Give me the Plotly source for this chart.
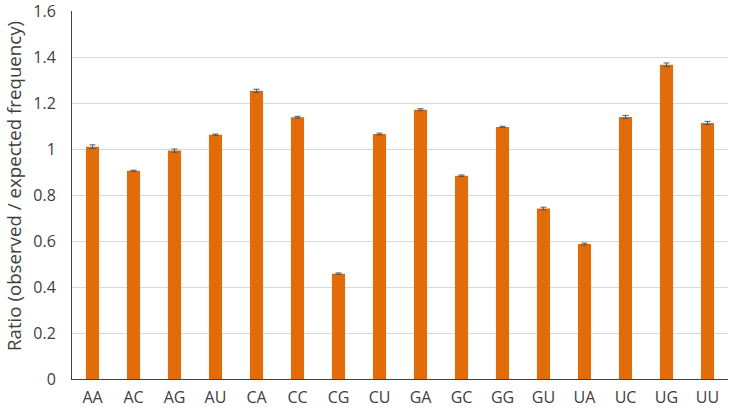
import plotly.graph_objects as go

categories = ["AA", "AC", "AG", "AU", "CA", "CC", "CG", "CU", "GA", "GC", "GG", "GU", "UA", "UC", "UG", "UU"]
ratios = [1.010, 0.905, 0.993, 1.062, 1.253, 1.138, 0.458, 1.065, 1.171, 0.884, 1.096, 0.741, 0.587, 1.139, 1.366, 1.113]
errors = [0.008, 0.003, 0.007, 0.003, 0.007, 0.004, 0.003, 0.004, 0.004, 0.003, 0.003, 0.006, 0.004, 0.007, 0.008, 0.007]
y_ticks = [0, 0.2, 0.4, 0.6, 0.8, 1, 1.2, 1.4, 1.6]
y_tick_labels = ["0", "0.2", "0.4", "0.6", "0.8", "1", "1.2", "1.4", "1.6"]
y_title = "Ratio (observed / expected frequency)"

fig = go.Figure(go.Bar(
    x=categories,
    y=ratios,
    marker=dict(color="#E36C0A", line=dict(width=0)),
    width=0.32,
    error_y=dict(type="data", array=errors, visible=True, color="#555555", thickness=1, width=3),
))

fig.update_layout(
    width=733, height=411,
    margin=dict(l=72, r=5, t=11, b=32, autoexpand=False),
    plot_bgcolor="white", paper_bgcolor="white",
    showlegend=False,
    font=dict(family="Open Sans, sans-serif", size=16, color="#404040"),
)
fig.update_xaxes(
    showline=True, linecolor="#404040", linewidth=1,
    showgrid=False, ticks="outside", ticklen=4, tickcolor="rgba(0,0,0,0)",
    tickfont=dict(size=16, color="#404040"), automargin=False,
)
fig.update_yaxes(
    range=[0, 1.6], tickvals=y_ticks, ticktext=y_tick_labels,
    showline=True, linecolor="#404040", linewidth=1,
    showgrid=True, gridcolor="#D9D9D9", gridwidth=1,
    zeroline=False, ticks="outside", ticklen=12, tickcolor="rgba(0,0,0,0)",
    tickfont=dict(size=16, color="#404040"), automargin=False,
    ticklabeloverflow="allow",
)
fig.add_annotation(
    text=y_title, textangle=-90,
    xref="paper", yref="paper", x=0, y=0.5, xshift=-59, yshift=9,
    xanchor="center", yanchor="middle", showarrow=False,
    font=dict(size=18.7, color="#404040"),
)

fig.write_html(
    "out.html",
    config={"displayModeBar": False},
    post_script="document.body.style.margin='0px';document.body.style.overflow='hidden';",
)
